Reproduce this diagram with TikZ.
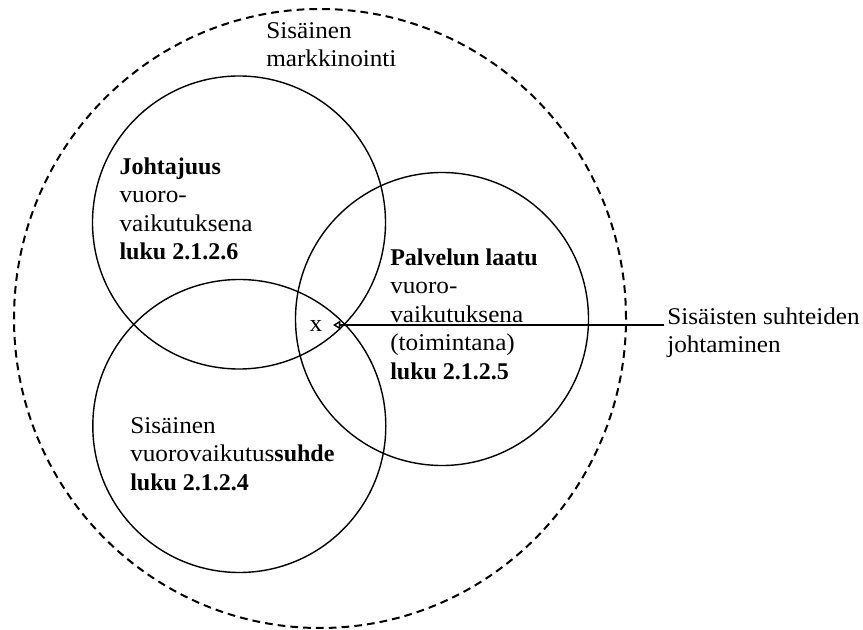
\documentclass[tikz,border=0pt]{standalone}
\usepackage{fontspec}
\setmainfont{Liberation Serif}[UprightFeatures={FakeStretch=1.05}]
\usetikzlibrary{arrows.meta,shapes.geometric}
\begin{document}
\begin{tikzpicture}[x=0.75pt,y=-0.75pt,
  ring/.style={draw, circle, line width=1.05pt, inner sep=0pt, minimum size=219.75pt},
  outerring/.style={draw, ellipse, line width=1.5pt, dash pattern=on 5.8pt off 3.8pt,
    inner sep=0pt, minimum width=459pt, minimum height=464.25pt},
  txt/.style={anchor=north west, inner sep=0pt, align=left,
    font=\fontsize{18}{21.4}\selectfont},
  link/.style={line width=1.05pt, -{Triangle[open,length=5.5pt,width=6.5pt]}}
]
  % page frame
  \useasboundingbox (0,0) rectangle (863,630);

  % internal marketing as the enclosing dashed ring
  \node (market) [outerring] at (320,318.5) {};

  % the three overlapping areas
  \node (lead)    [ring] at (239,222.5) {};
  \node (quality) [ring] at (442,319) {};
  \node (bond)    [ring] at (239.3,426) {};

  % labels
  \node (marketlbl) [txt] at (266,18) {\strut Sisäinen\\markkinointi};
  \node (leadlbl) [txt] at (119.3,154)
    {\strut\textbf{Johtajuus}\\vuoro-\\vaikutuksena\\\textbf{luku 2.1.2.6}};
  \node (qualitylbl) [txt] at (390,245)
    {\strut\textbf{Palvelun laatu}\\vuoro-\\vaikutuksena\\(toimintana)\\\textbf{luku 2.1.2.5}};
  \node (bondlbl) [txt] at (130,413)
    {\strut Sisäinen\\vuorovaikutus\textbf{suhde}\\\textbf{luku 2.1.2.4}};
  \node (mgmtlbl) [txt] at (667,304) {\strut Sisäisten suhteiden\\johtaminen};

  % centre mark and its pointer
  \node (xmark) [anchor=base, inner sep=0pt, font=\fontsize{18}{21.4}\selectfont]
    at (316,331.5) {x};
  \coordinate (tip) at (333,325);
  \coordinate (tail) at (664,325);
  \draw[link] (tail) -- (tip);
\end{tikzpicture}
\end{document}
